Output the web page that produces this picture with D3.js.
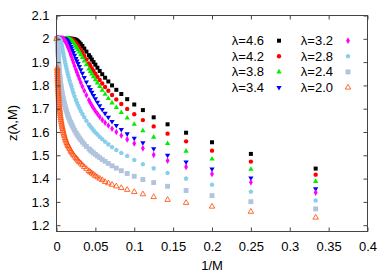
<!DOCTYPE html>
<html>
<head>
<meta charset="utf-8">
<script src="https://cdn.jsdelivr.net/npm/d3@7"></script>
<style>
body { margin: 0; background: #fff; }
text { font-family: "Liberation Sans", Arial, sans-serif; font-size: 13px; fill: #000; }
</style>
</head>
<body>
<svg id="chart" width="392" height="274"></svg>
<script>
// system sizes M (x axis is 1/M)
var Mvals = [3,4,5,6,7,8,9,10,11,12,13,14,15,16,17,18,19,20,21,22,23,24,
    26,28,30,32,34,36,38,40,
    43,46,49,52,55,59,63,67,71,76,
    81,86,92,98,104,111,118,126,134,143,
    152,162,173,184,196,209,222,237,252,268,
    286,305,325,346,368,392,418,445,474,505,
    538,573,610,650,692,737,785,836,890,948,
    1010, Infinity];

var lambdas = ["4.6", "4.2", "3.8", "3.4", "3.2", "2.8", "2.4", "2.0"];

var z46 = [1.443,1.506,1.556,1.597,1.633,1.663,1.694,1.718,1.741,1.763,1.781,1.800,1.817,1.833,1.848,1.862,1.876,1.889,1.900,1.911,1.921,1.930,
    1.945,1.958,1.969,1.977,1.984,1.989,1.993,1.996,
    1.998,1.999,2,2,2,2,2,2,2,2,
    2,2,2,2,2,2,2,2,2,2,
    2,2,2,2,2,2,2,2,2,2,
    2,2,2,2,2,2,2,2,2,2,
    2,2,2,2,2,2,2,2,2,2,
    2,2];
var z42 = [1.417,1.473,1.520,1.560,1.593,1.624,1.651,1.676,1.699,1.720,1.740,1.759,1.777,1.793,1.808,1.823,1.837,1.850,1.862,1.873,1.884,1.894,
    1.911,1.926,1.940,1.951,1.961,1.969,1.976,1.982,
    1.988,1.993,1.996,1.998,1.999,2,2,2,2,2,
    2,2,2,2,2,2,2,2,2,2,
    2,2,2,2,2,2,2,2,2,2,
    2,2,2,2,2,2,2,2,2,2,
    2,2,2,2,2,2,2,2,2,2,
    2,2];
var z38 = [1.388,1.440,1.484,1.518,1.551,1.578,1.605,1.633,1.660,1.684,1.705,1.725,1.744,1.762,1.779,1.795,1.810,1.824,1.837,1.849,1.860,1.870,
    1.889,1.905,1.920,1.932,1.943,1.953,1.961,1.968,
    1.977,1.984,1.989,1.993,1.996,1.998,1.999,2,2,2,
    2,2,2,2,2,2,2,2,2,2,
    2,2,2,2,2,2,2,2,2,2,
    2,2,2,2,2,2,2,2,2,2,
    2,2,2,2,2,2,2,2,2,2,
    2,2];
var z34 = [1.356,1.403,1.441,1.471,1.500,1.528,1.554,1.573,1.592,1.611,1.628,1.645,1.663,1.680,1.697,1.713,1.728,1.743,1.757,1.770,1.782,1.794,
    1.815,1.834,1.852,1.867,1.881,1.894,1.905,1.915,
    1.929,1.941,1.951,1.960,1.967,1.975,1.981,1.986,1.990,1.994,
    1.996,1.998,1.999,2,2,2,2,2,2,2,
    2,2,2,2,2,2,2,2,2,2,
    2,2,2,2,2,2,2,2,2,2,
    2,2,2,2,2,2,2,2,2,2,
    2,2];
var z32 = [1.340,1.384,1.420,1.450,1.477,1.502,1.530,1.551,1.568,1.585,1.600,1.614,1.628,1.640,1.652,1.665,1.678,1.690,1.702,1.714,1.726,1.737,
    1.758,1.777,1.795,1.812,1.828,1.842,1.855,1.867,
    1.883,1.898,1.911,1.923,1.933,1.945,1.955,1.963,1.970,1.977,
    1.983,1.988,1.992,1.995,1.997,1.999,2,2,2,2,
    2,2,2,2,2,2,2,2,2,2,
    2,2,2,2,2,2,2,2,2,2,
    2,2,2,2,2,2,2,2,2,2,
    2,2];
var z28 = [1.306,1.344,1.374,1.400,1.424,1.444,1.462,1.480,1.497,1.510,1.523,1.535,1.547,1.558,1.569,1.579,1.589,1.598,1.607,1.616,1.625,1.633,
    1.648,1.663,1.677,1.690,1.703,1.715,1.727,1.738,
    1.753,1.768,1.782,1.795,1.806,1.820,1.833,1.845,1.856,1.869,
    1.880,1.891,1.902,1.913,1.922,1.932,1.941,1.950,1.958,1.966,
    1.972,1.978,1.983,1.987,1.991,1.994,1.996,1.998,1.999,2,
    2,2,2,2,2,2,2,2,2,2,
    2,2,2,2,2,2,2,2,2,2,
    2,2];
var z24 = [1.270,1.301,1.327,1.349,1.367,1.383,1.396,1.410,1.422,1.434,1.445,1.455,1.465,1.474,1.482,1.490,1.497,1.504,1.510,1.516,1.522,1.528,
    1.538,1.548,1.557,1.566,1.574,1.582,1.590,1.597,
    1.607,1.617,1.626,1.634,1.642,1.651,1.660,1.668,1.676,1.686,
    1.695,1.703,1.712,1.721,1.729,1.737,1.745,1.754,1.762,1.771,
    1.780,1.789,1.798,1.806,1.815,1.824,1.833,1.842,1.851,1.860,
    1.869,1.878,1.887,1.896,1.904,1.912,1.920,1.928,1.935,1.942,
    1.948,1.954,1.960,1.965,1.970,1.974,1.978,1.982,1.985,1.988,
    1.990,2];
var z20 = [1.233,1.258,1.280,1.296,1.309,1.321,1.333,1.343,1.352,1.360,1.367,1.374,1.380,1.386,1.394,1.400,1.406,1.412,1.418,1.423,1.428,1.433,
    1.442,1.450,1.458,1.465,1.471,1.477,1.483,1.488,
    1.495,1.502,1.508,1.514,1.520,1.527,1.534,1.540,1.546,1.553,
    1.560,1.567,1.574,1.582,1.589,1.597,1.605,1.613,1.620,1.628,
    1.636,1.644,1.652,1.660,1.668,1.676,1.684,1.692,1.700,1.708,
    1.716,1.724,1.732,1.740,1.748,1.756,1.764,1.772,1.780,1.788,
    1.796,1.804,1.812,1.820,1.828,1.836,1.844,1.852,1.860,1.868,
    1.875,2];

var xTicks = [0, 0.05, 0.1, 0.15, 0.2, 0.25, 0.3, 0.35, 0.4];
var yTicks = [1.2, 1.3, 1.4, 1.5, 1.6, 1.7, 1.8, 1.9, 2, 2.1];

// pentagon marker (gnuplot pt 15 style)
var symbolPentagon = {
    draw: function (context, size) {
        var r = Math.sqrt(size / 2.378);
        for (var i = 0; i < 5; i++) {
            var a = -Math.PI / 2 + i * 2 * Math.PI / 5;
            if (i === 0) context.moveTo(r * Math.cos(a), r * Math.sin(a));
            else context.lineTo(r * Math.cos(a), r * Math.sin(a));
        }
        context.closePath();
    }
};

var series = [
    {values: z46, type: d3.symbolSquare,   size: 16, fill: "#000000", stroke: "none", rot: 0},
    {values: z42, type: d3.symbolCircle,   size: 15, fill: "#ff0000", stroke: "none", rot: 0},
    {values: z38, type: d3.symbolTriangle, size: 12, fill: "#00ee00", stroke: "none", rot: 0},
    {values: z34, type: d3.symbolTriangle, size: 12, fill: "#0000ff", stroke: "none", rot: 180},
    {values: z32, type: d3.symbolDiamond,  size: 13, fill: "#ff00ff", stroke: "none", rot: 0},
    {values: z28, type: symbolPentagon,    size: 15, fill: "#87ceeb", stroke: "none", rot: 0},
    {values: z24, type: d3.symbolSquare,   size: 24, fill: "#b0c4de", stroke: "none", rot: 0},
    {values: z20, type: d3.symbolTriangle, size: 13, fill: "none", stroke: "#ff4500", rot: 0}
];

var svg = d3.select("#chart");
var x = d3.scaleLinear().domain([0, 0.4]).range([56.5, 367.5]);
var y = d3.scaleLinear().domain([1.173, 2.1]).range([231.5, 15.5]);

// data points
series.forEach(function (s, k) {
    var sym = d3.symbol().type(s.type).size(s.size);
    svg.append("g").selectAll("path")
        .data(Mvals.map(function (m, i) { return {x: 1 / m, z: s.values[i]}; }))
        .enter().append("path")
        .attr("d", sym)
        .attr("transform", function (d) { return "translate(" + x(d.x) + "," + y(d.z) + ") rotate(" + s.rot + ")"; })
        .attr("fill", s.fill)
        .attr("stroke", s.stroke)
        .attr("stroke-width", 0.8);
});

// axes, ticks pointing inward on all four sides
var gx = svg.append("g").attr("transform", "translate(0,231.5)")
    .call(d3.axisBottom(x).tickValues(xTicks).tickSizeInner(-4).tickSizeOuter(0).tickPadding(10).tickFormat(d3.format("")));
var gy = svg.append("g").attr("transform", "translate(56.5,0)")
    .call(d3.axisLeft(y).tickValues(yTicks).tickSizeInner(-4).tickSizeOuter(0).tickPadding(7).tickFormat(d3.format("")));
var gt = svg.append("g").attr("transform", "translate(0,15.5)")
    .call(d3.axisTop(x).tickValues(xTicks).tickSizeInner(-4).tickSizeOuter(0).tickFormat(""));
var gr = svg.append("g").attr("transform", "translate(367.5,0)")
    .call(d3.axisRight(y).tickValues(yTicks).tickSizeInner(-4).tickSizeOuter(0).tickFormat(""));

[gx, gy, gt, gr].forEach(function (g) {
    g.select(".domain").remove();
    g.selectAll(".tick line").attr("stroke", "#444");
    g.selectAll("text").attr("font-size", 13).attr("font-family", "Liberation Sans, Arial, sans-serif").attr("fill", "#000");
});

svg.append("rect")
    .attr("x", 56.5).attr("y", 15.5)
    .attr("width", 311).attr("height", 216)
    .attr("fill", "none").attr("stroke", "#444").attr("stroke-width", 1);

// axis titles
svg.append("text").attr("x", 212).attr("y", 270).attr("text-anchor", "middle").text("1/M");
svg.append("text").attr("transform", "translate(16.5,123) rotate(-90)").attr("text-anchor", "middle").text("z(\u03bb,M)");

// legend in two columns
var legend = svg.append("g");
lambdas.forEach(function (lam, k) {
    var col = Math.floor(k / 4), row = k % 4;
    var tx = col === 0 ? 264 : 333, mx = col === 0 ? 279 : 348;
    var ly = 40.7 + row * 15.6;
    var s = series[k];
    legend.append("text").attr("x", tx).attr("y", ly).attr("dy", "0.35em")
        .attr("text-anchor", "end").text("\u03bb=" + lam);
    legend.append("path")
        .attr("d", d3.symbol().type(s.type).size(s.size))
        .attr("transform", "translate(" + mx + "," + ly + ") rotate(" + s.rot + ")")
        .attr("fill", s.fill).attr("stroke", s.stroke).attr("stroke-width", 0.8);
});
</script>
</body>
</html>
